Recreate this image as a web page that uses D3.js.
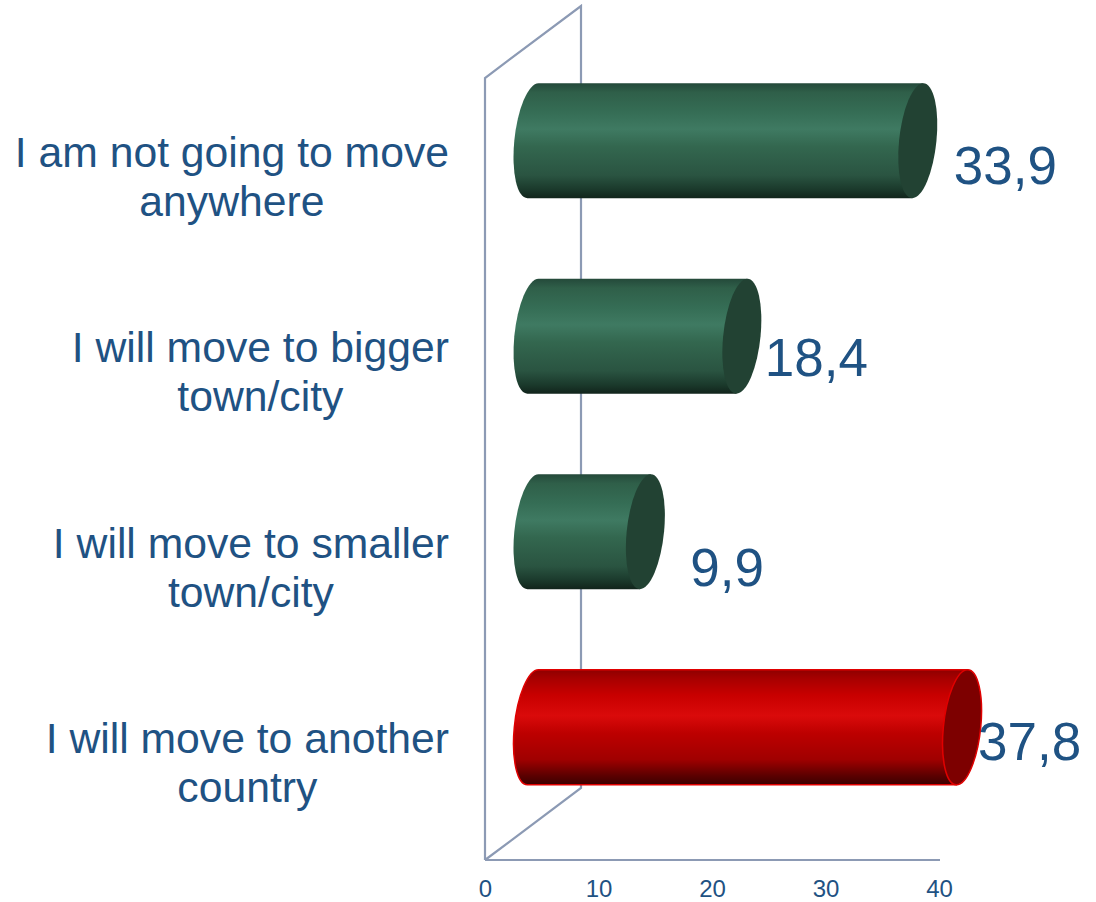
<!DOCTYPE html>
<html lang="en">
<head>
<meta charset="UTF-8">
<title>Moving plans</title>
<style>
  html, body { margin: 0; padding: 0; background: #fff; }
  svg { display: block; }
  text { font-family: "Liberation Sans", Arial, sans-serif; fill: #1f5283; }
  .tick line, .domain { display: none; }
</style>
<script src="https://d3js.org/d3.v7.min.js"></script>
</head>
<body>
<div id="chart"></div>
<script>
const categories = ["I am not going to move\nanywhere", "I will move to bigger\ntown/city", "I will move to smaller\ntown/city", "I will move to another\ncountry"];
const values = [33.9, 18.4, 9.9, 37.8];
const valueLabels = ["33,9", "18,4", "9,9", "37,8"];
const tickValues = [0, 10, 20, 30, 40];

const width = 1096, height = 902;
const wallDepth = 96, wallRise = 72;
const axisColor = "#8c9ab4";

// hand placed data labels, same as in the picture
const labelDx = [36, 23, 45, 16];
const labelDy = [43, 40, 54, 33];

const svg = d3.select("#chart").append("svg")
  .attr("width", width)
  .attr("height", height);

const x = d3.scaleLinear().domain([0, 40]).range([485, 939]);
const y = d3.scaleBand().domain(categories).range([43, 825]);

function addGradient(id, stops) {
  svg.append("defs").append("linearGradient")
    .attr("id", id)
    .attr("x1", 0).attr("y1", 0).attr("x2", 0).attr("y2", 1)
    .selectAll("stop")
    .data(stops)
    .enter()
    .append("stop")
    .attr("offset", d => d[0])
    .attr("stop-color", d => d[1]);
}

addGradient("green", [[0, "#24493a"], [0.08, "#2f5f49"], [0.25, "#356d55"], [0.4, "#3f7a62"], [0.55, "#33674f"], [0.8, "#2a5441"], [0.92, "#1b3a2c"], [1, "#11241b"]]);
addGradient("red", [[0, "#8e0000"], [0.08, "#a80000"], [0.22, "#c80000"], [0.4, "#da0a0a"], [0.55, "#bd0000"], [0.78, "#a00000"], [0.92, "#5c0000"], [1, "#3c0000"]]);

// back wall and floor
const x0 = x(0), floorY = 860;
svg.append("path")
  .attr("d", d3.line()([[x0, floorY], [x0, 78], [x0 + wallDepth, 78 - wallRise], [x0 + wallDepth, floorY - wallRise], [x0, floorY]]))
  .attr("fill", "none")
  .attr("stroke", axisColor)
  .attr("stroke-width", 2.2);

svg.append("line")
  .attr("x1", x0).attr("x2", x(40) + 1)
  .attr("y1", floorY).attr("y2", floorY)
  .attr("stroke", axisColor)
  .attr("stroke-width", 2.2);

// x axis labels
const axis = svg.append("g")
  .attr("transform", `translate(0, ${floorY})`)
  .call(d3.axisBottom(x).tickValues(tickValues).tickSize(0).tickPadding(20));
axis.selectAll("text").style("font-size", "24px").attr("fill", "#1f5283");

// cylinders
const rx = 18.7, ry = 57.5, startX = x0 + wallDepth / 2;
const isRed = i => i === 3;

const bars = svg.selectAll(".bar")
  .data(values)
  .enter()
  .append("g")
  .attr("class", "bar")
  .attr("transform", (d, i) => `translate(${startX}, ${y(categories[i]) + y.bandwidth() / 2}) skewX(-5.5)`);

bars.append("path")
  .attr("d", d => {
    const len = x(d) - x0;
    return `M0,${-ry}L${len},${-ry}L${len},${ry}L0,${ry}A${rx},${ry} 0 0 1 0,${-ry}Z`;
  })
  .attr("fill", (d, i) => isRed(i) ? "url(#red)" : "url(#green)")
  .attr("stroke", (d, i) => isRed(i) ? "#e00000" : "none")
  .attr("stroke-width", 1.5);

bars.append("ellipse")
  .attr("cx", d => x(d) - x0)
  .attr("cy", 0)
  .attr("rx", rx)
  .attr("ry", ry)
  .attr("fill", (d, i) => isRed(i) ? "#7d0000" : "#224233")
  .attr("stroke", (d, i) => isRed(i) ? "#e00000" : "none")
  .attr("stroke-width", 1.5);

// category labels, block is right aligned and its lines are centred on the first one
const labelRight = 449;
const cats = svg.selectAll(".cat")
  .data(categories)
  .enter()
  .append("text")
  .attr("class", "cat")
  .attr("text-anchor", "middle")
  .style("font-size", "42.7px");

cats.each(function(d) {
  const lines = d.split("\n");
  const t = d3.select(this);
  const mid = y(d) + y.bandwidth() / 2;
  const spans = lines.map((line, i) => t.append("tspan")
    .attr("y", mid + 26 + i * 49)
    .text(line));
  const firstWidth = spans[0].node().getComputedTextLength();
  spans.forEach(s => s.attr("x", labelRight - firstWidth / 2));
});

// value labels
svg.selectAll(".val")
  .data(values)
  .enter()
  .append("text")
  .attr("class", "val")
  .attr("x", (d, i) => x(d) + wallDepth / 2 + labelDx[i])
  .attr("y", (d, i) => y(categories[i]) + y.bandwidth() / 2 + labelDy[i])
  .style("font-size", "53px")
  .text((d, i) => valueLabels[i]);
</script>
</body>
</html>
